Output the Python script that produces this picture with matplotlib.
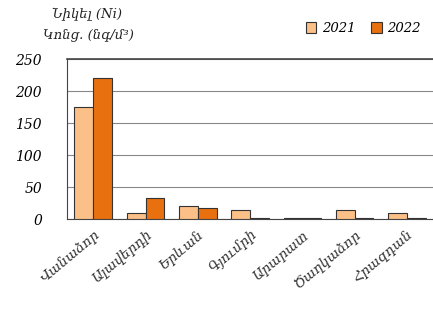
import matplotlib.pyplot as plt
import numpy as np

cities = ['Վանաձոր', 'Ալավերդի', 'Երևան', 'Գյումրի', 'Արարատ', 'Ծաղկաձոր', 'Հրազդան']
vals_2021 = [175, 9, 20, 14, 2, 14, 10]
vals_2022 = [220, 33, 17, 1, 1, 1, 1]

plt.rcParams['font.family'] = ['DejaVu Serif', 'DejaVu Sans']
plt.rcParams['font.style'] = 'italic'

fig = plt.figure(figsize=(4.33, 3.09), dpi=100)
ax = fig.add_axes([0.155, 0.291, 0.845, 0.518])

x = np.arange(len(cities))
w = 0.36
ax.bar(x - w/2, vals_2021, w, color='#fbbf88', edgecolor='#333333', linewidth=0.8, label='2021', zorder=3)
ax.bar(x + w/2, vals_2022, w, color='#e8700f', edgecolor='#333333', linewidth=0.8, label='2022', zorder=3)

ax.set_xlim(-0.5, 6.5)
ax.set_ylim(0, 250)
ax.set_yticks([0, 50, 100, 150, 200, 250])
ax.yaxis.grid(True, color='#888888', linewidth=0.8, zorder=0)
ax.tick_params(axis='y', length=0, labelsize=10, pad=18)
ax.tick_params(axis='x', length=0, pad=6)
ax.set_xticks(x)
ax.set_xticklabels(cities, rotation=40, ha='right', rotation_mode='anchor', fontsize=10, color='#333333')
ax.spines['right'].set_visible(False)
ax.spines['top'].set_color('#444444')
ax.spines['top'].set_linewidth(1.2)
ax.spines['left'].set_color('#444444')
ax.spines['bottom'].set_color('#444444')

fig.text(0.12, 0.952, 'Նիկել (Ni)', fontsize=9.5, ha='left', va='center', color='#222222')
fig.text(0.10, 0.887, 'Կոնց. (նգ/մ³)', fontsize=9.5, ha='left', va='center', color='#222222')

ax.legend(loc='center right', bbox_to_anchor=(0.98, 1.19), ncol=2, frameon=False,
          fontsize=9.5, handlelength=0.8, handleheight=0.8, columnspacing=1.2, handletextpad=0.4,
          borderaxespad=0)

fig.savefig('out.png', dpi=100)
